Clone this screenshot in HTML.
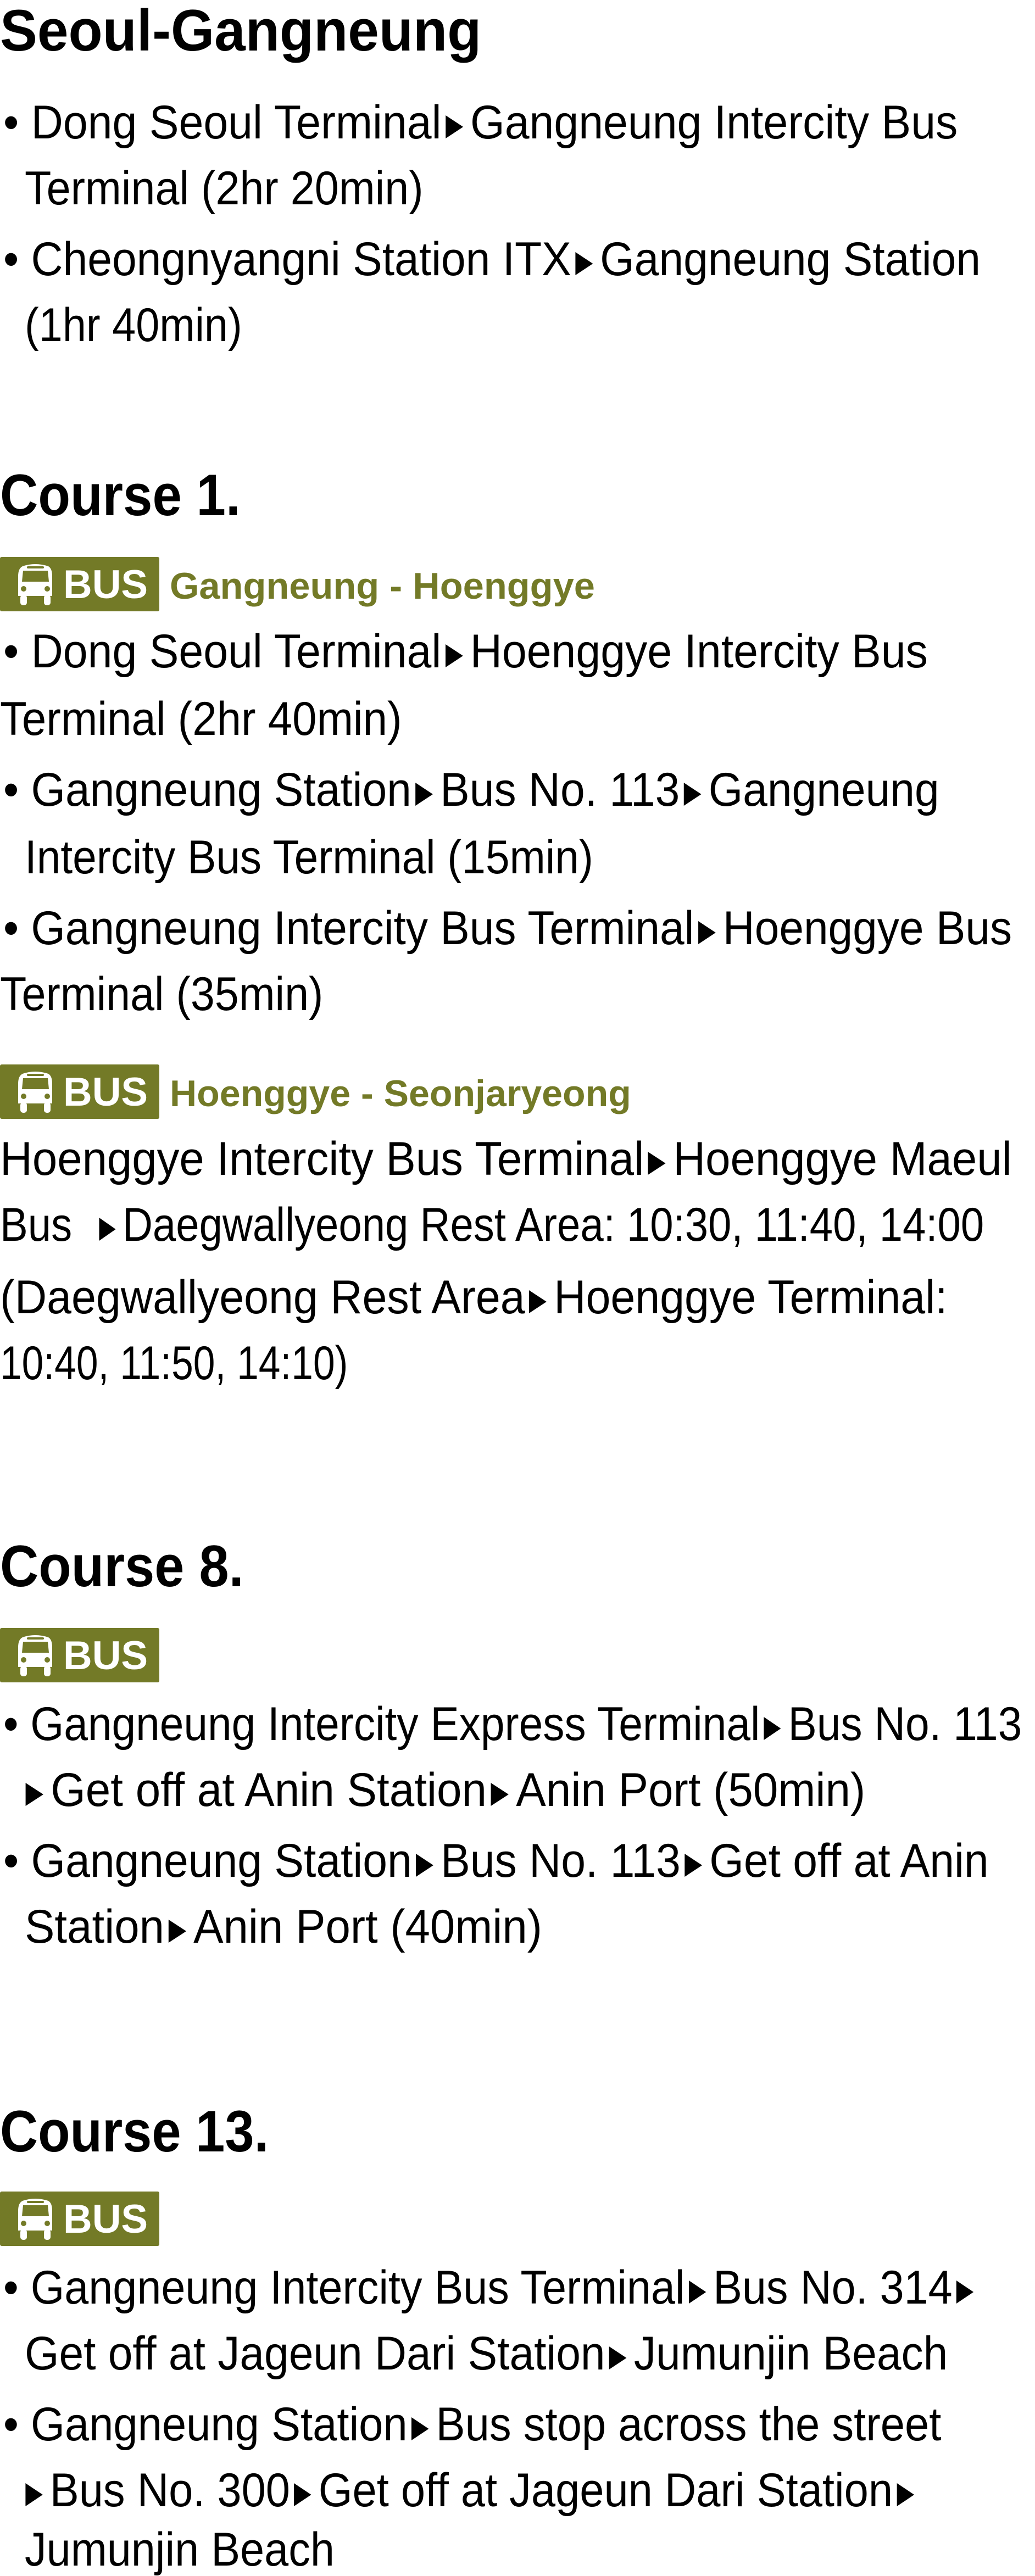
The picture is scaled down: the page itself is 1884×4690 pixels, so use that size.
<!DOCTYPE html>
<html><head><meta charset="utf-8">
<style>
html,body{margin:0;padding:0;background:#fff}
body{width:1884px;height:4682px;position:relative;overflow:hidden;font-family:"Liberation Sans",sans-serif;color:#000}
.ln{position:absolute;white-space:nowrap;font-size:86px;line-height:82px;transform-origin:0 50%}
.h{position:absolute;white-space:nowrap;font-size:107px;line-height:107px;font-weight:bold;transform-origin:0 50%}
.g{position:absolute;white-space:nowrap;font-size:68px;line-height:68px;font-weight:bold;color:#737a27;transform-origin:0 50%}
.t{display:inline-block;width:0;height:0;border-left:34px solid #000;border-top:21px solid transparent;border-bottom:21px solid transparent;margin:0 14px 0 8px;vertical-align:0px}
.badge{position:absolute;left:0;width:290px;height:99px;background:#737a27;border-radius:3px}
.badge svg{position:absolute;left:33px;top:11px}
.badge span{position:absolute;left:115px;top:14px;font-size:73px;line-height:73px;font-weight:bold;color:#fff}
</style></head><body>

<div class="h" style="top:2px;left:0;--r:876">Seoul-Gangneung</div>
<div class="ln" style="top:182px;left:6px;--r:1737">• Dong Seoul Terminal<i class="t"></i>Gangneung Intercity Bus</div>
<div class="ln" style="top:302px;left:45px;--r:726">Terminal (2hr 20min)</div>
<div class="ln" style="top:431px;left:6px;--r:1779">• Cheongnyangni Station ITX<i class="t"></i>Gangneung Station</div>
<div class="ln" style="top:551px;left:45px;--r:396">(1hr 40min)</div>

<div class="h" style="top:848px;left:0;--r:438">Course 1.</div>
<div class="badge" style="top:1014px"><svg width="63" height="77" viewBox="0 0 63 77"><path d="M8 6 Q31 -2 55 6 Q62 10 62 24 L62 60 L0 60 L0 24 Q0 10 8 6Z" fill="#fff"/><rect x="16" y="6" width="31" height="4" rx="2" fill="#737a27"/><path d="M9 14 L54 14 L56 34 L7 34Z" fill="#737a27"/><circle cx="10" cy="47" r="5" fill="#737a27"/><circle cx="53" cy="47" r="5" fill="#737a27"/><rect x="4" y="58" width="12" height="19" rx="5" fill="#fff"/><rect x="47" y="58" width="12" height="19" rx="5" fill="#fff"/></svg><span>BUS</span></div>
<div class="g" style="top:1033px;left:309px;--r:774">Gangneung - Hoenggye</div>
<div class="ln" style="top:1145px;left:6px;--r:1683">• Dong Seoul Terminal<i class="t"></i>Hoenggye Intercity Bus</div>
<div class="ln" style="top:1268px;left:0;--r:732">Terminal (2hr 40min)</div>
<div class="ln" style="top:1397px;left:6px;--r:1704">• Gangneung Station<i class="t"></i>Bus No. 113<i class="t"></i>Gangneung</div>
<div class="ln" style="top:1520px;left:45px;--r:1035">Intercity Bus Terminal (15min)</div>
<div class="ln" style="top:1649px;left:6px;--r:1836">• Gangneung Intercity Bus Terminal<i class="t"></i>Hoenggye Bus</div>
<div class="ln" style="top:1769px;left:0;--r:588">Terminal (35min)</div>

<div class="badge" style="top:1938px"><svg width="63" height="77" viewBox="0 0 63 77"><path d="M8 6 Q31 -2 55 6 Q62 10 62 24 L62 60 L0 60 L0 24 Q0 10 8 6Z" fill="#fff"/><rect x="16" y="6" width="31" height="4" rx="2" fill="#737a27"/><path d="M9 14 L54 14 L56 34 L7 34Z" fill="#737a27"/><circle cx="10" cy="47" r="5" fill="#737a27"/><circle cx="53" cy="47" r="5" fill="#737a27"/><rect x="4" y="58" width="12" height="19" rx="5" fill="#fff"/><rect x="47" y="58" width="12" height="19" rx="5" fill="#fff"/></svg><span>BUS</span></div>
<div class="g" style="top:1957px;left:309px;--r:840">Hoenggye - Seonjaryeong</div>
<div class="ln" style="top:2069px;left:0;--r:1842">Hoenggye Intercity Bus Terminal<i class="t"></i>Hoenggye Maeul</div>
<div class="ln" style="top:2189px;left:0;--r:1791">Bus &nbsp;<i class="t"></i>Daegwallyeong Rest Area: 10:30, 11:40, 14:00</div>
<div class="ln" style="top:2321px;left:0;--r:1725">(Daegwallyeong Rest Area<i class="t"></i>Hoenggye Terminal:</div>
<div class="ln" style="top:2441px;left:0;--r:633">10:40, 11:50, 14:10)</div>

<div class="h" style="top:2798px;left:0;--r:444">Course 8.</div>
<div class="badge" style="top:2964px"><svg width="63" height="77" viewBox="0 0 63 77"><path d="M8 6 Q31 -2 55 6 Q62 10 62 24 L62 60 L0 60 L0 24 Q0 10 8 6Z" fill="#fff"/><rect x="16" y="6" width="31" height="4" rx="2" fill="#737a27"/><path d="M9 14 L54 14 L56 34 L7 34Z" fill="#737a27"/><circle cx="10" cy="47" r="5" fill="#737a27"/><circle cx="53" cy="47" r="5" fill="#737a27"/><rect x="4" y="58" width="12" height="19" rx="5" fill="#fff"/><rect x="47" y="58" width="12" height="19" rx="5" fill="#fff"/></svg><span>BUS</span></div>
<div class="ln" style="top:3098px;left:6px;--r:1854">• Gangneung Intercity Express Terminal<i class="t"></i>Bus No. 113</div>
<div class="ln" style="top:3218px;left:39px;--r:1536"><i class="t"></i>Get off at Anin Station<i class="t"></i>Anin Port (50min)</div>
<div class="ln" style="top:3347px;left:6px;--r:1794">• Gangneung Station<i class="t"></i>Bus No. 113<i class="t"></i>Get off at Anin</div>
<div class="ln" style="top:3467px;left:45px;--r:942">Station<i class="t"></i>Anin Port (40min)</div>

<div class="h" style="top:3827px;left:0;--r:489">Course 13.</div>
<div class="badge" style="top:3990px"><svg width="63" height="77" viewBox="0 0 63 77"><path d="M8 6 Q31 -2 55 6 Q62 10 62 24 L62 60 L0 60 L0 24 Q0 10 8 6Z" fill="#fff"/><rect x="16" y="6" width="31" height="4" rx="2" fill="#737a27"/><path d="M9 14 L54 14 L56 34 L7 34Z" fill="#737a27"/><circle cx="10" cy="47" r="5" fill="#737a27"/><circle cx="53" cy="47" r="5" fill="#737a27"/><rect x="4" y="58" width="12" height="19" rx="5" fill="#fff"/><rect x="47" y="58" width="12" height="19" rx="5" fill="#fff"/></svg><span>BUS</span></div>
<div class="ln" style="top:4124px;left:6px;--r:1779">• Gangneung Intercity Bus Terminal<i class="t"></i>Bus No. 314<i class="t"></i></div>
<div class="ln" style="top:4244px;left:45px;--r:1680">Get off at Jageun Dari Station<i class="t"></i>Jumunjin Beach</div>
<div class="ln" style="top:4373px;left:6px;--r:1707">• Gangneung Station<i class="t"></i>Bus stop across the street</div>
<div class="ln" style="top:4493px;left:39px;--r:1638"><i class="t"></i>Bus No. 300<i class="t"></i>Get off at Jageun Dari Station<i class="t"></i></div>
<div class="ln" style="top:4601px;left:45px;--r:564">Jumunjin Beach</div>

<script>
document.querySelectorAll('.ln,.h,.g').forEach(function(el){
  var r=parseFloat(getComputedStyle(el).getPropertyValue('--r'));
  var w=el.scrollWidth;
  if(r&&w) el.style.transform='scaleX('+(r/w)+')';
});
</script>
</body></html>
